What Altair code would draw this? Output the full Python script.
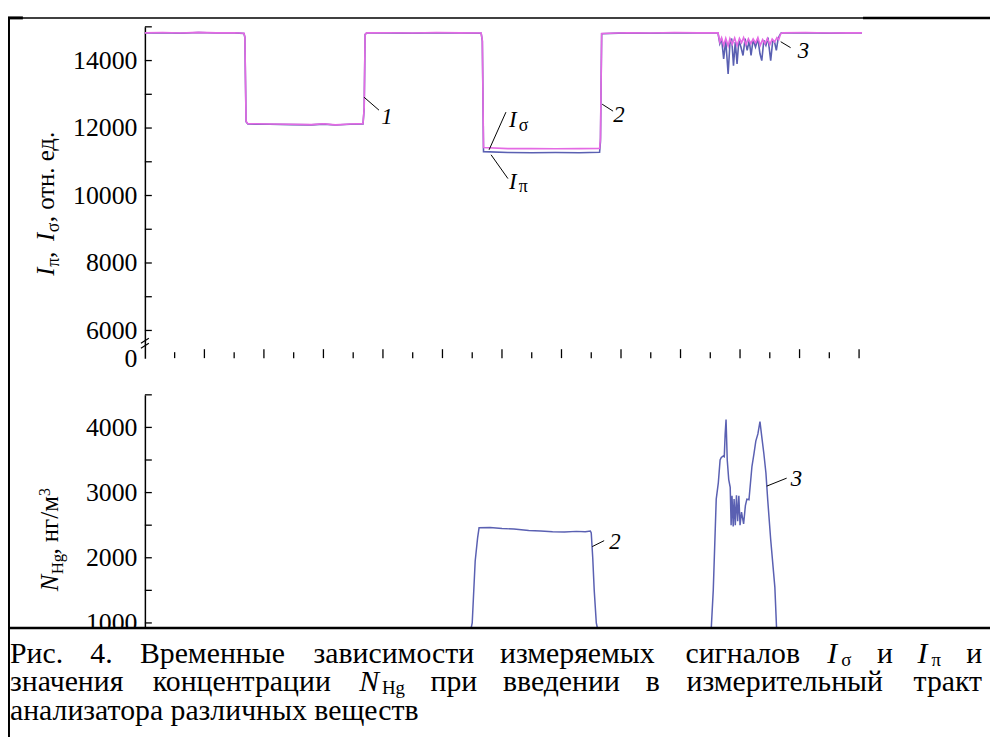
import altair as alt
import pandas as pd

# ---------------- data ----------------
# I_sigma (magenta), time in ticks, signal in rel. units
sigma_t = [0.00, 0.60, 1.20, 1.80, 2.40, 3.00, 3.33, 3.36, 3.40, 3.46,
           4.20, 4.90, 5.60, 6.00, 6.40, 6.90, 7.33, 7.37, 7.40, 7.45,
           8.20, 9.00, 9.80, 10.60, 11.30, 11.34, 11.38, 12.20, 13.00, 13.80,
           14.60, 15.28, 15.31, 15.35, 16.20, 17.00, 17.80, 18.60, 19.26, 19.32,
           19.38, 19.45, 19.52, 19.60, 19.66, 19.74, 19.82, 19.90, 19.98, 20.05,
           20.12, 20.20, 20.28, 20.36, 20.44, 20.52, 20.60, 20.68, 20.76, 20.84,
           20.92, 21.00, 21.08, 21.16, 21.24, 21.30, 21.36, 21.42, 22.20, 23.00,
           23.60, 24.10]
sigma_v = [14820, 14830, 14815, 14835, 14820, 14825, 14810, 14700, 12200, 12130,
           12120, 12110, 12100, 12125, 12095, 12120, 12130, 12600, 14780, 14820,
           14825, 14815, 14830, 14820, 14815, 14600, 11420, 11390, 11390, 11385,
           11390, 11395, 11700, 14800, 14825, 14815, 14830, 14820, 14820, 14550,
           14680, 14450, 14660, 14430, 14650, 14480, 14670, 14440, 14660, 14530,
           14680, 14470, 14650, 14500, 14640, 14520, 14680, 14450, 14620, 14500,
           14660, 14470, 14640, 14550, 14680, 14620, 14790, 14820, 14830, 14815,
           14825, 14820]

# I_pi (blue)
pi_t = [0.00, 0.60, 1.20, 1.80, 2.40, 3.00, 3.33, 3.36, 3.40, 3.46,
        4.20, 4.90, 5.60, 6.00, 6.40, 6.90, 7.33, 7.37, 7.40, 7.45,
        8.20, 9.00, 9.80, 10.60, 11.30, 11.34, 11.38, 12.20, 13.00, 13.80,
        14.60, 15.28, 15.31, 15.35, 16.20, 17.00, 17.80, 18.60, 19.26, 19.32,
        19.38, 19.45, 19.52, 19.60, 19.66, 19.72, 19.78, 19.84, 19.90, 19.96,
        20.03, 20.10, 20.17, 20.24, 20.31, 20.37, 20.44, 20.52, 20.60, 20.67,
        20.73, 20.80, 20.87, 20.94, 21.03, 21.10, 21.16, 21.22, 21.28, 21.33,
        21.38, 22.20, 23.00, 23.60, 24.10]
pi_v = [14815, 14825, 14810, 14830, 14815, 14820, 14805, 14690, 12190, 12120,
        12110, 12100, 12095, 12115, 12090, 12110, 12120, 12580, 14770, 14815,
        14820, 14810, 14825, 14815, 14810, 14580, 11300, 11275, 11270, 11275,
        11270, 11280, 11600, 14795, 14820, 14810, 14825, 14815, 14815, 14500,
        14650, 14050, 14600, 13600, 14500, 14650, 13850, 14550, 13900, 14600,
        14400, 14150, 14650, 14300, 14600, 14150, 14620, 14400, 14650, 14200,
        14000, 14600, 14450, 14680, 14000, 14600, 14550, 14300, 14650, 14750,
        14815, 14825, 14810, 14820, 14815]

# N_Hg, ng/m3 (blue, lower panel)
n_t = [0.0, 2.0, 4.0, 6.0, 8.0, 10.0, 10.95, 11.00, 11.10, 11.18,
       11.23, 11.60, 12.00, 12.40, 12.90, 13.30, 13.70, 14.10, 14.50, 14.80,
       14.97, 15.00, 15.05, 15.10, 15.17, 15.22, 16.00, 17.00, 18.00, 18.95,
       19.03, 19.10, 19.20, 19.27, 19.33, 19.37, 19.43, 19.47, 19.50, 19.53,
       19.57, 19.62, 19.67, 19.70, 19.73, 19.77, 19.80, 19.84, 19.88, 19.92,
       19.96, 20.00, 20.05, 20.12, 20.18, 20.23, 20.30, 20.40, 20.47, 20.53,
       20.60, 20.67, 20.73, 20.80, 20.87, 20.93, 21.03, 21.17, 21.23, 21.30,
       22.0, 23.0, 24.1]
n_v = [0, 0, 0, 0, 0, 0, 0, 1000, 1950, 2300,
       2460, 2465, 2450, 2440, 2420, 2410, 2400, 2395, 2405, 2400,
       2410, 2380, 2000, 1500, 1000, 0, 0, 0, 0, 0,
       850, 1500, 2900, 3150, 3500, 3540, 3560, 3550, 3900, 4120,
       3500, 3200, 3080, 2500, 2950, 2480, 2900, 2500, 2960, 2560,
       2950, 2500, 2700, 2520, 2800, 2900, 2890, 3400, 3600, 3790,
       3900, 4090, 3860, 3600, 3300, 2890, 2280, 1550, 850, 0,
       0, 0, 0]

# axis ticks / labels
top_label_values = [5180, 6000, 8000, 10000, 12000, 14000]   # 5180 = broken-axis "0"
top_tick_values = [6000, 7000, 8000, 9000, 10000, 11000, 12000, 13000, 14000, 15000]
x_major_ticks = [2, 4, 6, 8, 10, 12, 14, 16, 18, 20, 22, 24]
x_minor_ticks = [1, 3, 5, 7, 9, 11, 13, 15, 17, 19, 21, 23]
bot_label_values = [1000, 2000, 3000, 4000]
bot_tick_values = [1000, 1500, 2000, 2500, 3000, 3500, 4000, 4500]

# ---------------- styling ----------------
BLUE = "#5a60b2"
MAGENTA = "#e46ae4"
SERIF = "Liberation Serif"
W, H = 990, 732

X_SCALE = alt.Scale(domain=[0, 24.1], range=[138, 861])
YT_SCALE = alt.Scale(domain=[5180, 15000], range=[350, 16])
YB_SCALE = alt.Scale(domain=[893, 4500], range=[624, 387], clamp=True)
ONE = alt.Data(values=[{"a": 1}])

df_sigma = pd.DataFrame({"t": sigma_t, "v": sigma_v})
df_pi = pd.DataFrame({"t": pi_t, "v": pi_v})
df_n = pd.DataFrame({"t": n_t, "v": n_v})

layers = []

x_axis = alt.Axis(orient="bottom", offset=-(H - 350), labels=False, ticks=False,
                  tickSize=0, grid=False, title=None, domainColor="black",
                  domainWidth=1.5)
yt_axis = alt.Axis(orient="left", offset=-138, values=top_label_values,
                   labelExpr="datum.value < 5500 ? '0' : format(datum.value, 'd')",
                   ticks=False, tickSize=0, labelPadding=8, labelFont=SERIF,
                   labelFontSize=26, labelColor="black", domainColor="black",
                   domainWidth=1.5, grid=False, title=None)
yb_axis = alt.Axis(orient="left", offset=-138, values=bot_label_values, format="d",
                   ticks=False, tickSize=0, labelPadding=8, labelFont=SERIF,
                   labelFontSize=26, labelColor="black", domainColor="black",
                   domainWidth=1.5, grid=False, title=None)

# data lines
layers.append(alt.Chart(df_pi).mark_line(color=BLUE, strokeWidth=1.6).encode(
    x=alt.X("t:Q", scale=X_SCALE, axis=x_axis),
    y=alt.Y("v:Q", scale=YT_SCALE, axis=yt_axis)))
layers.append(alt.Chart(df_sigma).mark_line(color=MAGENTA, strokeWidth=1.6).encode(
    x=alt.X("t:Q", scale=X_SCALE, axis=None),
    y=alt.Y("v:Q", scale=YT_SCALE, axis=None)))
layers.append(alt.Chart(df_n).mark_line(color=BLUE, strokeWidth=1.5).encode(
    x=alt.X("t:Q", scale=X_SCALE, axis=None),
    y=alt.Y("v:Q", scale=YB_SCALE, axis=yb_axis)))

# inward ticks
layers.append(alt.Chart(pd.DataFrame({"v": top_tick_values})).mark_rule(
    color="black", strokeWidth=1.3).encode(
    y=alt.Y("v:Q", scale=YT_SCALE, axis=None), x=alt.value(138), x2=alt.value(145)))
layers.append(alt.Chart(pd.DataFrame({"v": bot_tick_values})).mark_rule(
    color="black", strokeWidth=1.3).encode(
    y=alt.Y("v:Q", scale=YB_SCALE, axis=None), x=alt.value(138), x2=alt.value(145)))
layers.append(alt.Chart(pd.DataFrame({"t": x_major_ticks})).mark_rule(
    color="black", strokeWidth=1.3).encode(
    x=alt.X("t:Q", scale=X_SCALE, axis=None), y=alt.value(350), y2=alt.value(341)))
layers.append(alt.Chart(pd.DataFrame({"t": x_minor_ticks})).mark_rule(
    color="black", strokeWidth=1.3).encode(
    x=alt.X("t:Q", scale=X_SCALE, axis=None), y=alt.value(350), y2=alt.value(344)))


def rule(x1, y1, x2, y2, w=1.0, color="black"):
    return alt.Chart(ONE).mark_rule(color=color, strokeWidth=w).encode(
        x=alt.value(x1), y=alt.value(y1), x2=alt.value(x2), y2=alt.value(y2))


def text(s, x, y, size=30, italic=False, font=SERIF, align="left", angle=0,
         baseline="alphabetic"):
    kw = dict(text=s, font=font, fontSize=size, align=align, baseline=baseline,
              color="black")
    if italic:
        kw["fontStyle"] = "italic"
    if angle:
        kw["angle"] = angle
    return alt.Chart(ONE).mark_text(**kw).encode(x=alt.value(x), y=alt.value(y))


# axis break mark on the upper y axis
layers.append(rule(134, 335, 142, 330, 1.2))
layers.append(rule(134, 340, 142, 335, 1.2))

# caption box (white) and frame
layers.append(alt.Chart(ONE).mark_rect(color="white").encode(
    x=alt.value(0), x2=alt.value(W), y=alt.value(621), y2=alt.value(H)))
layers.append(rule(0, 7, W, 7, 1.5))
layers.append(rule(0, 7, 15, 7, 3))
layers.append(rule(862, 7, W, 7, 2.5))
layers.append(rule(1, 7, 1, H, 2))
layers.append(rule(0, 622, W, 622, 2.5))

# leader lines
for (x1, y1, x2, y2) in [(359, 87, 374, 100), (599, 94, 610, 101),
                         (502, 102, 485, 140), (487, 145, 504, 169),
                         (779, 31, 789, 37), (589, 540, 601, 534),
                         (765, 479, 785, 471)]:
    layers.append(rule(x1, y1, x2, y2, 1.0))

# curve labels
LAB = 23
layers.append(text("1", 382, 114, LAB, True, align="center"))
layers.append(text("2", 616, 112, LAB, True, align="center"))
layers.append(text("3", 802, 47, LAB, True, align="center"))
layers.append(text("2", 612, 542, LAB, True, align="center"))
layers.append(text("3", 795, 479, LAB, True, align="center"))
layers.append(text("I", 505, 117, LAB, True))
layers.append(text("σ", 515, 121, 18))
layers.append(text("I", 505, 179, LAB, True))
layers.append(text("π", 515, 183, 18))

# y-axis titles (rotated)
layers.append(text("I", 46, 267, 25, True, angle=270))
layers.append(text("π", 51, 258, 18, angle=270))
layers.append(text(",", 46, 249, 25, angle=270))
layers.append(text("I", 46, 232, 25, True, angle=270))
layers.append(text("σ", 51, 223, 18, angle=270))
layers.append(text(", отн. ед.", 46, 213, 25, angle=270))

layers.append(text("N", 50, 585, 25, True, angle=270))
layers.append(text("Hg", 55, 568, 17, angle=270))
layers.append(text(", нг/м", 50, 548, 25, angle=270))
layers.append(text("3", 42, 489, 16, angle=270))

# caption (justified lines)
CAP = 30
SUB = 19
L1, L2, L3 = 657, 686, 715
for s, x in [("Рис.", 2), ("4.", 83), ("Временные", 133), ("зависимости", 308),
             ("измеряемых", 496), ("сигналов", 683)]:
    layers.append(text(s, x, L1, CAP))
layers.append(text("I", 826, L1, CAP, True))
layers.append(text("σ", 840, L1 + 3, SUB))
layers.append(text("и", 876, L1, CAP))
layers.append(text("I", 917, L1, CAP, True))
layers.append(text("π", 931, L1 + 3, SUB))
layers.append(text("и", 982, L1, CAP, align="right"))

for s, x in [("значения", 2), ("концентрации", 146), ("при", 426),
             ("введении", 499), ("в", 643), ("измерительный", 684)]:
    layers.append(text(s, x, L2, CAP))
layers.append(text("N", 354, L2, CAP, True))
layers.append(text("Hg", 377, L2 + 3, SUB))
layers.append(text("тракт", 982, L2, CAP, align="right"))

layers.append(text("анализатора различных веществ", 2, L3, CAP))

chart = alt.layer(*layers).resolve_scale(y="independent").properties(
    width=W, height=H, padding=0,
    autosize=alt.AutoSizeParams(type="none"),
    background="white",
).configure_view(stroke=None)

chart.save("out.html", embed_options={"renderer": "svg", "actions": False})
